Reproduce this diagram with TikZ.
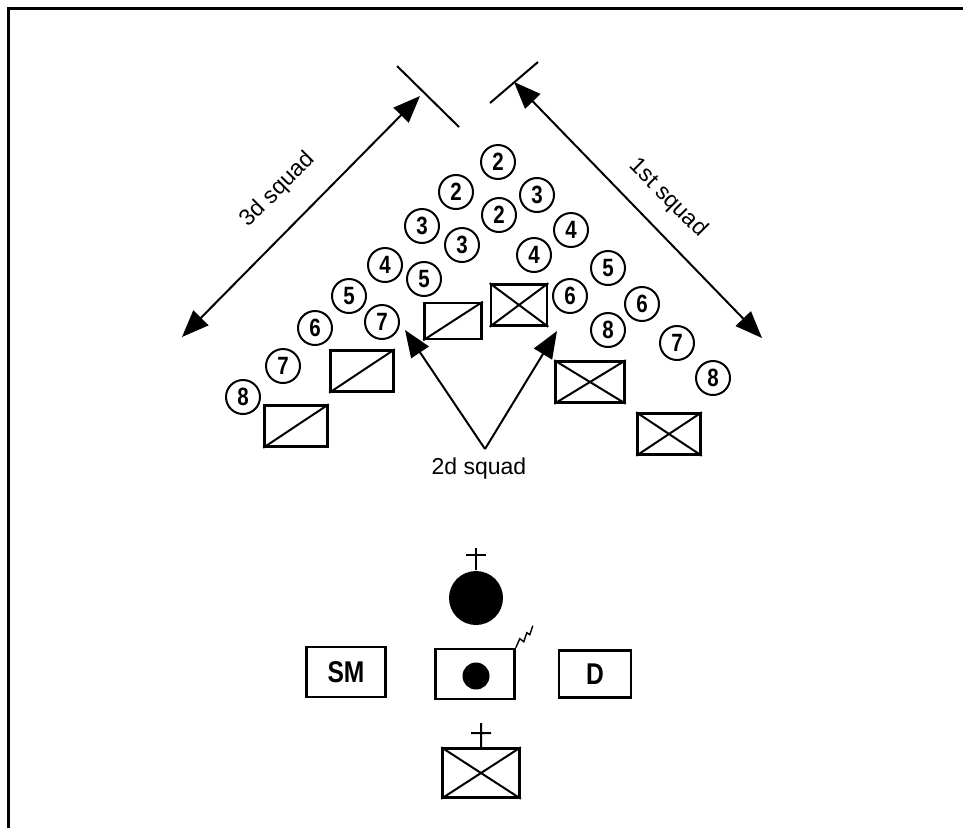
\documentclass[tikz,border=0pt]{standalone}
\usepackage{fontspec}
\setmainfont{Liberation Sans}
\newfontfamily\condfont[FakeStretch=0.82]{Liberation Sans}
\usetikzlibrary{arrows.meta}

\begin{document}
\begin{tikzpicture}[x=1pt,y=-1pt,>={Triangle[length=27pt,width=21pt]},line width=2pt,
  man/.style={circle,draw,line width=2pt,minimum size=34pt,inner sep=0pt,
    font=\condfont\bfseries\fontsize{25}{25}\selectfont},
  veh/.style={draw,line width=2.6pt,minimum width=63pt,minimum height=41pt,inner sep=0pt},
  lbl/.style={font=\fontsize{23}{23}\selectfont},
  hq/.style={draw,line width=2.6pt,minimum width=79pt,minimum height=50pt,inner sep=0pt,
    font=\condfont\bfseries\fontsize{30}{30}\selectfont}]

\useasboundingbox (0,0) rectangle (963,828);
\draw[line width=3pt] (8.5,828) -- (8.5,8) -- (963,8);

% 3d squad
\node[man] (a8) at (243,397) {8};
\node[man] (a7) at (283,366) {7};
\node[man] (a6) at (315,328) {6};
\node[man] (a5) at (349,296) {5};
\node[man] (a4) at (385,265) {4};
\node[man] (a3) at (422,226) {3};
\node[man] (a2) at (456,192) {2};
\node[man] (a1) at (498,162) {2};

% 2d squad
\node[man] (b7) at (382,322) {7};
\node[man] (b5) at (424,279) {5};
\node[man] (b3) at (462,245) {3};
\node[man] (b2) at (499,215) {2};
\node[man] (b4) at (534,255) {4};
\node[man] (b6) at (570,296) {6};
\node[man] (b8) at (608,330) {8};

% 1st squad
\node[man] (c3) at (537,195) {3};
\node[man] (c4) at (571,230) {4};
\node[man] (c5) at (608,268) {5};
\node[man] (c6) at (642,304) {6};
\node[man] (c7) at (677,343) {7};
\node[man] (c8) at (713,378) {8};

% vehicles
\node[veh] (v1) at (296,426) {};
\node[veh] (v2) at (362,371) {};
\node[veh,minimum width=57pt,minimum height=36pt] (v3) at (453,321) {};
\node[veh,minimum width=56pt] (w1) at (519,305) {};
\node[veh,minimum width=69pt] (w2) at (590,382) {};
\node[veh] (w3) at (669,434) {};

\path [draw]
    (v1.south west) -- (v1.north east)
    (v2.south west) -- (v2.north east)
    (v3.south west) -- (v3.north east)
    (w1.south west) -- (w1.north east)
    (w1.north west) -- (w1.south east)
    (w2.south west) -- (w2.north east)
    (w2.north west) -- (w2.south east)
    (w3.south west) -- (w3.north east)
    (w3.north west) -- (w3.south east)
;

% frontage arrows
\coordinate (p1) at (182,337);
\coordinate (p2) at (420,96);
\coordinate (p3) at (397,66);
\coordinate (p4) at (459,127);
\coordinate (q1) at (762,338);
\coordinate (q2) at (514,82);
\coordinate (q3) at (490,103);
\coordinate (q4) at (538,62);
\coordinate (s0) at (485,449);
\coordinate (s1) at (405,330);
\coordinate (s2) at (557,331);

\draw[<->] (p1) -- (p2);
\draw[<->] (q2) -- (q1);
\draw[->] (s0) -- (s1);
\draw[->] (s0) -- (s2);
\path [draw]
    (p3) -- (p4)
    (q3) -- (q4)
;

\node[lbl,rotate=45] (t3) at (278,190) {3d squad};
\node[lbl,rotate=-45] (t1) at (668,198) {1st squad};
\node[lbl] (t2) at (479,469) {2d squad};

% headquarters
\node[circle,fill,minimum size=54pt,inner sep=0pt] (pl) at (476,598) {};
\coordinate (plt) at (476,548);
\coordinate (plx1) at (466,555);
\coordinate (plx2) at (486,555);
\path [draw]
    (pl.north) -- (plt)
    (plx1) -- (plx2)
;

\node[hq] (sm) at (346,672) {SM};
\node[hq] (cp) at (475,674) {};
\node[hq,minimum width=72pt,minimum height=47pt] (dr) at (595,674) {D};
\node[circle,fill,minimum size=27pt,inner sep=0pt] (dot) at (476,676) {};
\draw[line width=1.4pt] (cp.north east) -- ++(4,-9) -- ++(4,3) -- ++(3,-9) -- ++(3,2) -- ++(3,-9);

\node[veh,minimum width=77pt,minimum height=49pt] (mv) at (481,773) {};
\coordinate (mvt) at (481,723);
\coordinate (mvx1) at (471,733);
\coordinate (mvx2) at (491,733);
\path [draw]
    (mv.south west) -- (mv.north east)
    (mv.north west) -- (mv.south east)
    (mv.north) -- (mvt)
    (mvx1) -- (mvx2)
;

\end{tikzpicture}
\end{document}
